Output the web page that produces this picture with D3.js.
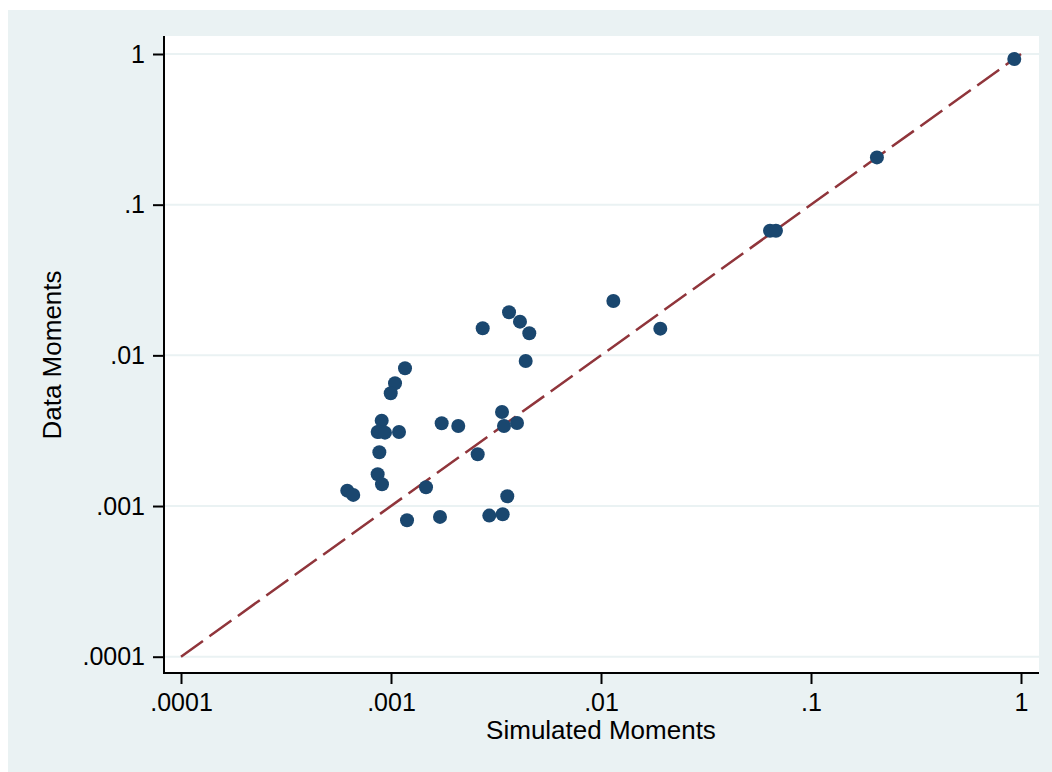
<!DOCTYPE html>
<html>
<head>
<meta charset="utf-8">
<script src="https://cdn.jsdelivr.net/npm/d3@7"></script>
<style>
  body { margin: 0; background: #fff; }
  svg { display: block; font-family: "Liberation Sans", Arial, Helvetica, sans-serif; }
</style>
</head>
<body>
<div id="chart"></div>
<script>
// Stata-style log-log scatter: data moments vs simulated moments
///

const tickValues = [0.0001, 0.001, 0.01, 0.1, 1];
const tickLabels = ['.0001', '.001', '.01', '.1', '1'];

// simulated moments (x) and data moments (y)
const simulated = [0.929, 0.206, 0.0638, 0.0681, 0.01145, 0.01916, 0.002733, 0.003648, 0.004113,
	0.004556, 0.004379, 0.001166, 0.001045, 0.000997, 0.000903, 0.000864, 0.00088, 0.000936,
	0.001092, 0.001743, 0.002091, 0.003378, 0.003452, 0.003981, 0.00088, 0.002587, 0.000864,
	0.000906, 0.001468, 0.000619, 0.000661, 0.003579, 0.001192, 0.001711, 0.002938, 0.003403];
const data = [0.927, 0.206, 0.0672, 0.0672, 0.02296, 0.01504, 0.01513, 0.01932, 0.01674,
	0.01402, 0.00918, 0.00821, 0.00653, 0.0056, 0.003686, 0.0031, 0.00311, 0.00307,
	0.0031, 0.003543, 0.0034, 0.00421, 0.0034, 0.00356, 0.002275, 0.002207, 0.001626,
	0.001395, 0.001332, 0.001265, 0.001185, 0.001161, 0.000805, 0.000847, 0.000864, 0.000882];

// 45 degree reference line
const refLine = [0.0001, 1];

const W = 1052, H = 772;

let svg = d3.select('#chart').append('svg')
	.attr('width', W)
	.attr('height', H);

// graph region + plot region
svg.append('rect').attr('x', 8).attr('y', 10).attr('width', W - 8).attr('height', H - 10).attr('fill', '#eaf2f3');
svg.append('rect').attr('x', 164).attr('y', 36).attr('width', 1039 - 164).attr('height', 673 - 36).attr('fill', '#fff');

const x = d3.scaleLog().domain([0.0001, 1]).range([181, 1021]);
const y = d3.scaleLog().domain([0.0001, 1]).range([656.7, 54]);

// grid lines
svg.append('g').selectAll('line')
	.data(tickValues)
	.enter()
	.append('line')
	.attr('x1', 165).attr('x2', 1039)
	.attr('y1', d => y(d)).attr('y2', d => y(d))
	.attr('stroke', '#eaf2f3')
	.attr('stroke-width', 2);

// reference line
svg.append('path')
	.datum(refLine)
	.attr('d', d3.line().x(d => x(d)).y(d => y(d)))
	.attr('fill', 'none')
	.attr('stroke', '#90353b')
	.attr('stroke-width', 2.5)
	.attr('stroke-dasharray', '27,8');

// points
svg.append('g').selectAll('circle')
	.data(simulated.map((s, i) => [s, data[i]]))
	.enter()
	.append('circle')
	.attr('cx', d => x(d[0]))
	.attr('cy', d => y(d[1]))
	.attr('r', 7)
	.attr('fill', '#1a476f');

const fmt = d => tickLabels[tickValues.indexOf(d)];

// axes
let xAxis = svg.append('g')
	.attr('transform', 'translate(0,673)')
	.call(d3.axisBottom(x).tickValues(tickValues).tickFormat(fmt).tickSize(11).tickSizeOuter(0).tickPadding(9));
let yAxis = svg.append('g')
	.attr('transform', 'translate(164,0)')
	.call(d3.axisLeft(y).tickValues(tickValues).tickFormat(fmt).tickSize(11).tickSizeOuter(0).tickPadding(8));

[xAxis, yAxis].forEach(function(a) {
	a.select('.domain').remove();
	a.selectAll('.tick line').attr('stroke', '#000').attr('stroke-width', 2);
	a.selectAll('.tick text').attr('fill', '#000').style('font-size', '25px').style('font-family', '"Liberation Sans", Arial, sans-serif');
});

// axis lines span the whole plot region
svg.append('line').attr('x1', 164).attr('x2', 1039).attr('y1', 673).attr('y2', 673).attr('stroke', '#000').attr('stroke-width', 2);
svg.append('line').attr('x1', 164).attr('x2', 164).attr('y1', 36).attr('y2', 674).attr('stroke', '#000').attr('stroke-width', 2);

// titles
svg.append('text')
	.attr('x', 601).attr('y', 739)
	.attr('text-anchor', 'middle')
	.style('font-size', '26px')
	.text('Simulated Moments');
svg.append('text')
	.attr('transform', 'translate(61,355) rotate(-90)')
	.attr('text-anchor', 'middle')
	.style('font-size', '26px')
	.text('Data Moments');
</script>
</body>
</html>
